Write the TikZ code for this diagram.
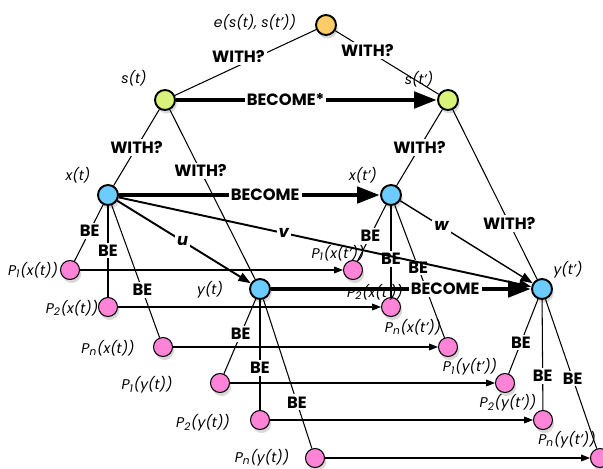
\documentclass[tikz,border=0pt]{standalone}
\usepackage{fontspec}
\setmainfont{Poppins}
\usetikzlibrary{arrows.meta,shadows}
\definecolor{peach}{HTML}{FFCC66}
\definecolor{lime}{HTML}{D8F27A}
\definecolor{sky}{HTML}{6CCBFF}
\definecolor{pinky}{HTML}{FF84D8}

\begin{document}
\begin{tikzpicture}[x=0.02cm,y=-0.02cm,line width=0.6pt,
    dot/.style={circle,draw,line width=1.1pt,minimum size=0.4cm,inner sep=0pt,
      drop shadow={opacity=0.3,shadow xshift=1pt,shadow yshift=-2pt}},
    pdot/.style={dot,fill=pinky,line width=0.6pt,minimum size=0.38cm},
    tag/.style={font=\fontsize{9.3}{10}\selectfont\bfseries,fill=white,inner sep=1.2pt},
    termtext/.style={font=\fontsize{8}{9}\selectfont\itshape,inner sep=0pt},
    become/.style={line width=2.8pt,-{Triangle[length=13pt,width=9pt]}},
    link/.style={line width=1.1pt,-{Triangle[length=7pt,width=5pt]}},
    hop/.style={-{Triangle[length=5pt,width=3.8pt]}}]
  \useasboundingbox (0,0) rectangle (603,468);

  % top and state nodes
  \node[dot,fill=peach] (e) at (326,25) {};
  \node[dot,fill=lime] (s) at (165,100) {};
  \node[dot,fill=lime] (sp) at (448,100) {};
  \node[dot,fill=sky] (x) at (108,195) {};
  \node[dot,fill=sky] (xp) at (391,195) {};
  \node[dot,fill=sky] (y) at (260,289) {};
  \node[dot,fill=sky] (yp) at (542,289) {};

  % properties
  \node[pdot] (p1x) at (70,270) {};
  \node[pdot] (p2x) at (108,307) {};
  \node[pdot] (pnx) at (163,347) {};
  \node[pdot] (p1y) at (220,383) {};
  \node[pdot] (p2y) at (260,420) {};
  \node[pdot] (pny) at (315,458) {};
  \node[pdot] (p1xp) at (353,270) {};
  \node[pdot] (p2xp) at (391,307) {};
  \node[pdot] (pnxp) at (448,347) {};
  \node[pdot] (p1yp) at (505,383) {};
  \node[pdot] (p2yp) at (543,420) {};
  \node[pdot] (pnyp) at (600,458) {};

  \node[termtext] at (255,22) {e(s(t), s(t'))};
  \node[termtext] at (134,78) {s(t)};
  \node[termtext] at (419,79) {s(t')};
  \node[termtext] at (78,175) {x(t)};
  \node[termtext] at (363,175) {x(t')};
  \node[termtext] at (210,290) {y(t)};
  \node[termtext] at (568,270) {y(t')};
  \node[termtext] at (33,270) {P\textsubscript{1}(x(t))};
  \node[termtext] at (72,308) {P\textsubscript{2}(x(t))};
  \node[termtext] at (108,348) {P\textsubscript{n}(x(t))};
  \node[termtext] at (147,385) {P\textsubscript{1}(y(t))};
  \node[termtext] at (203,423) {P\textsubscript{2}(y(t))};
  \node[termtext] at (262,458) {P\textsubscript{n}(y(t))};
  \node[termtext] at (338,253) {P\textsubscript{1}(x(t'))};
  \node[termtext] at (375,292) {P\textsubscript{2}(x(t'))};
  \node[termtext] at (413,327) {P\textsubscript{n}(x(t'))};
  \node[termtext] at (470,367) {P\textsubscript{1}(y(t'))};
  \node[termtext] at (508,403) {P\textsubscript{2}(y(t'))};
  \node[termtext] at (567,440) {P\textsubscript{n}(y(t'))};

  % WITH? links
  \draw (e) -- node[tag,pos=0.55,yshift=5pt] {WITH?} (s);
  \draw (e) -- node[tag,pos=0.31] {WITH?} (sp);
  \draw (s) -- node[tag] {WITH?} (x);
  \draw (s) -- node[tag,pos=0.36] {WITH?} (y);
  \draw (sp) -- node[tag] {WITH?} (xp);
  \draw (sp) -- node[tag,pos=0.67] {WITH?} (yp);

  % BE links
  \foreach \p/\f in {p1x/0.47,p2x/0.49,pnx/0.64}
    \draw (x) -- node[tag,pos=\f] {BE} (\p);
  \foreach \p/\f in {p1xp/0.55,p2xp/0.58,pnxp/0.47}
    \draw (xp) -- node[tag,pos=\f] {BE} (\p);
  \foreach \p/\f in {p1y/0.47,p2y/0.62,pny/0.69}
    \draw (y) -- node[tag,pos=\f] {BE} (\p);
  \foreach \p/\f in {p1yp/0.58,p2yp/0.69,pnyp/0.53}
    \draw (yp) -- node[tag,pos=\f] {BE} (\p);

  \foreach \a in {p1x,p2x,pnx,p1y,p2y,pny}
    \draw[hop] (\a) -- (\a p);

  % becoming
  \draw[become] (s) -- node[tag,pos=0.42] {BECOME*} (sp);
  \draw[become] (x) -- node[tag,pos=0.56] {BECOME} (xp);
  \draw[become] (y) -- node[tag,pos=0.67] {BECOME} (yp);
  \draw[link] (x) -- node[tag,pos=0.49] {\itshape u} (y);
  \draw[link] (x) -- node[tag,pos=0.4] {\itshape v} (yp);
  \draw[link,line width=0.8pt] (xp) -- node[tag,pos=0.31] {\itshape w} (yp);
\end{tikzpicture}
\end{document}
